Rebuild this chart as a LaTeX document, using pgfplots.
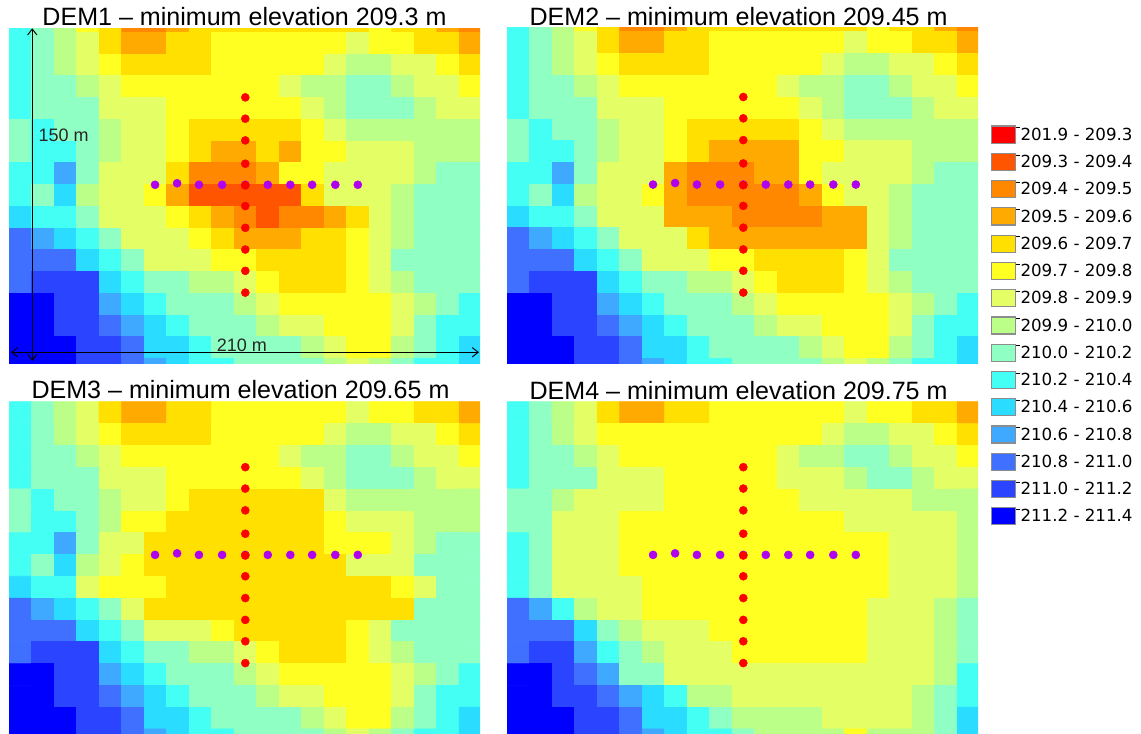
\documentclass[border=0pt]{standalone}
\usepackage{fontspec}
\setmainfont{Liberation Sans}
\newfontfamily\lgfont{DejaVu Sans}
\usepackage{pgfplots}
\usepackage{pgfplotstable}
\pgfplotsset{compat=1.18}
\usetikzlibrary{arrows.meta}
% class index of each cell, row by row from the top, 21 cells per row
% 0 = 201.9-209.3, 1 = 209.3-209.4, ... 14 = 211.2-211.4
\pgfplotstableread[row sep=\\]{c\\
9\\8\\7\\5\\4\\2\\2\\3\\4\\4\\4\\4\\4\\4\\4\\4\\5\\4\\4\\3\\2\\
9\\8\\7\\6\\4\\3\\3\\4\\4\\5\\5\\5\\5\\5\\5\\6\\5\\5\\4\\4\\3\\
9\\8\\7\\6\\5\\4\\4\\4\\4\\5\\5\\5\\5\\5\\6\\7\\7\\6\\6\\5\\4\\
9\\8\\8\\7\\6\\5\\5\\5\\5\\5\\5\\5\\6\\7\\7\\8\\8\\7\\6\\6\\5\\
9\\8\\8\\8\\6\\6\\6\\5\\5\\5\\5\\5\\5\\6\\7\\8\\8\\8\\7\\6\\6\\
8\\9\\8\\8\\7\\6\\6\\5\\4\\4\\4\\4\\4\\5\\6\\7\\7\\7\\7\\7\\7\\
8\\9\\9\\8\\7\\6\\6\\5\\4\\3\\3\\4\\3\\5\\5\\6\\6\\6\\7\\7\\7\\
9\\9\\11\\8\\6\\6\\6\\4\\2\\2\\2\\3\\5\\5\\6\\6\\6\\6\\7\\8\\8\\
9\\8\\10\\7\\6\\6\\5\\3\\1\\1\\1\\1\\1\\4\\6\\6\\6\\7\\8\\8\\8\\
10\\9\\9\\8\\6\\6\\6\\5\\4\\3\\2\\1\\2\\2\\3\\4\\6\\7\\8\\8\\8\\
12\\11\\10\\9\\8\\6\\6\\6\\5\\4\\3\\3\\3\\4\\4\\5\\6\\7\\8\\8\\8\\
12\\12\\12\\10\\9\\8\\6\\6\\6\\5\\5\\4\\4\\4\\4\\5\\6\\8\\8\\8\\8\\
12\\13\\13\\13\\10\\9\\8\\8\\7\\7\\6\\5\\4\\4\\4\\5\\6\\7\\8\\8\\8\\
14\\14\\13\\13\\11\\10\\9\\8\\8\\8\\7\\6\\5\\5\\5\\5\\5\\6\\7\\8\\9\\
14\\14\\13\\13\\12\\11\\10\\9\\8\\8\\8\\7\\6\\6\\5\\5\\5\\6\\8\\9\\9\\
14\\14\\14\\13\\13\\12\\10\\10\\9\\8\\8\\8\\8\\7\\6\\5\\5\\7\\8\\9\\10\\
14\\14\\14\\13\\13\\12\\11\\10\\9\\9\\8\\8\\8\\8\\7\\6\\7\\8\\9\\9\\10\\
}\demA
\pgfplotstableread[row sep=\\]{c\\
9\\8\\7\\5\\4\\2\\2\\3\\4\\4\\4\\4\\4\\4\\4\\4\\5\\4\\4\\3\\2\\
9\\8\\7\\6\\4\\3\\3\\4\\4\\5\\5\\5\\5\\5\\5\\6\\5\\5\\4\\4\\3\\
9\\8\\7\\6\\5\\4\\4\\4\\4\\5\\5\\5\\5\\5\\6\\7\\7\\6\\6\\5\\4\\
9\\8\\8\\7\\6\\5\\5\\5\\5\\5\\5\\5\\6\\7\\7\\8\\8\\7\\6\\6\\5\\
9\\8\\8\\8\\6\\6\\6\\5\\5\\5\\5\\5\\5\\6\\7\\8\\8\\8\\7\\6\\6\\
8\\9\\8\\8\\7\\6\\6\\5\\4\\4\\4\\4\\4\\5\\6\\7\\7\\7\\7\\7\\7\\
8\\9\\9\\8\\7\\6\\6\\5\\4\\3\\3\\3\\3\\5\\5\\6\\6\\6\\7\\7\\7\\
9\\9\\11\\8\\6\\6\\6\\3\\2\\2\\2\\3\\3\\5\\6\\6\\6\\6\\7\\8\\8\\
9\\8\\10\\7\\6\\6\\5\\3\\2\\2\\2\\2\\2\\3\\5\\6\\6\\7\\8\\8\\8\\
10\\9\\9\\8\\6\\6\\6\\3\\3\\3\\2\\2\\2\\2\\3\\3\\6\\7\\8\\8\\8\\
12\\11\\10\\9\\8\\6\\6\\6\\4\\3\\3\\3\\3\\3\\3\\3\\6\\7\\8\\8\\8\\
12\\12\\12\\10\\9\\8\\6\\6\\6\\5\\5\\4\\4\\4\\4\\5\\6\\8\\8\\8\\8\\
12\\13\\13\\13\\10\\9\\8\\8\\7\\7\\6\\5\\4\\4\\4\\5\\6\\7\\8\\8\\8\\
14\\14\\13\\13\\11\\10\\9\\8\\8\\8\\7\\6\\5\\5\\5\\5\\5\\6\\7\\8\\9\\
14\\14\\13\\13\\12\\11\\10\\9\\8\\8\\8\\7\\6\\6\\5\\5\\5\\6\\8\\9\\9\\
14\\14\\14\\13\\13\\12\\10\\10\\9\\8\\8\\8\\8\\7\\6\\5\\5\\7\\8\\9\\10\\
14\\14\\14\\13\\13\\12\\11\\10\\9\\9\\8\\8\\8\\8\\7\\6\\7\\8\\9\\9\\10\\
}\demB
\pgfplotstableread[row sep=\\]{c\\
9\\8\\7\\6\\4\\3\\3\\4\\4\\5\\5\\5\\5\\5\\5\\6\\5\\5\\4\\4\\3\\
9\\8\\7\\6\\5\\4\\4\\4\\4\\5\\5\\5\\5\\5\\6\\7\\7\\6\\6\\5\\4\\
9\\8\\8\\7\\6\\5\\5\\5\\5\\5\\5\\5\\6\\7\\7\\8\\8\\7\\6\\6\\5\\
9\\8\\8\\8\\6\\6\\6\\5\\5\\5\\5\\5\\5\\6\\7\\8\\8\\8\\7\\6\\6\\
8\\9\\8\\8\\7\\6\\6\\5\\4\\4\\4\\4\\4\\4\\6\\7\\7\\7\\7\\7\\7\\
8\\9\\9\\8\\7\\5\\5\\4\\4\\4\\4\\4\\4\\4\\5\\6\\6\\6\\7\\7\\7\\
9\\9\\11\\8\\6\\6\\4\\4\\4\\4\\4\\4\\4\\4\\5\\5\\5\\6\\7\\8\\8\\
9\\8\\10\\7\\6\\5\\4\\4\\4\\4\\4\\4\\4\\4\\4\\6\\6\\6\\8\\8\\8\\
10\\9\\9\\6\\5\\5\\5\\4\\4\\4\\4\\4\\4\\4\\4\\4\\4\\5\\6\\8\\8\\
12\\11\\10\\9\\8\\6\\4\\4\\4\\4\\4\\4\\4\\4\\4\\4\\4\\4\\8\\8\\8\\
12\\12\\12\\10\\9\\8\\6\\6\\6\\5\\4\\4\\4\\4\\4\\5\\6\\8\\8\\8\\8\\
12\\13\\13\\13\\10\\9\\8\\8\\7\\7\\6\\5\\4\\4\\4\\5\\6\\7\\8\\8\\8\\
14\\14\\13\\13\\11\\10\\9\\8\\8\\8\\7\\6\\5\\5\\5\\5\\5\\6\\7\\8\\9\\
14\\14\\13\\13\\12\\11\\10\\9\\8\\8\\8\\7\\6\\6\\5\\5\\5\\6\\8\\9\\9\\
14\\14\\14\\13\\13\\12\\10\\10\\9\\8\\8\\8\\8\\7\\6\\5\\5\\7\\8\\9\\10\\
14\\14\\14\\13\\13\\12\\11\\10\\9\\9\\8\\8\\8\\8\\7\\6\\7\\8\\9\\9\\10\\
}\demC
\pgfplotstableread[row sep=\\]{c\\
9\\8\\7\\6\\4\\3\\3\\4\\4\\5\\5\\5\\5\\5\\5\\6\\5\\5\\4\\4\\3\\
9\\8\\7\\6\\5\\5\\5\\5\\5\\5\\5\\5\\5\\5\\6\\7\\7\\6\\6\\5\\4\\
9\\8\\8\\7\\6\\5\\5\\5\\5\\5\\5\\5\\6\\7\\7\\8\\8\\7\\6\\6\\5\\
9\\8\\8\\8\\6\\6\\6\\5\\5\\5\\5\\5\\6\\6\\6\\7\\8\\8\\7\\6\\6\\
8\\8\\7\\6\\6\\6\\6\\5\\5\\5\\5\\5\\5\\6\\6\\6\\6\\6\\7\\7\\7\\
8\\8\\6\\6\\6\\5\\5\\5\\5\\5\\5\\5\\5\\5\\5\\6\\6\\6\\6\\6\\7\\
9\\8\\6\\6\\6\\5\\5\\5\\5\\5\\5\\5\\5\\5\\5\\5\\5\\6\\6\\6\\7\\
9\\8\\6\\6\\6\\5\\5\\5\\5\\5\\5\\5\\5\\5\\5\\5\\5\\6\\6\\6\\7\\
9\\8\\6\\6\\6\\6\\5\\5\\5\\5\\5\\5\\5\\5\\5\\5\\5\\6\\6\\6\\7\\
12\\11\\9\\7\\6\\6\\5\\5\\5\\5\\5\\5\\5\\5\\5\\5\\6\\6\\6\\7\\8\\
12\\12\\12\\10\\8\\7\\6\\6\\6\\5\\5\\5\\5\\5\\5\\5\\6\\6\\6\\7\\8\\
12\\13\\13\\11\\9\\8\\7\\6\\6\\6\\5\\5\\5\\5\\5\\5\\6\\6\\6\\7\\8\\
14\\14\\13\\12\\11\\8\\8\\6\\6\\6\\6\\6\\6\\6\\6\\6\\6\\6\\6\\7\\9\\
14\\14\\13\\13\\12\\11\\10\\9\\7\\7\\6\\6\\6\\6\\6\\6\\6\\6\\7\\8\\9\\
14\\14\\14\\13\\13\\12\\10\\10\\9\\8\\7\\7\\7\\7\\6\\6\\6\\6\\7\\8\\10\\
14\\14\\14\\13\\13\\12\\11\\10\\9\\9\\8\\7\\7\\7\\7\\5\\7\\7\\7\\8\\10\\
}\demD
\definecolor{c0}{RGB}{255,0,0}
\definecolor{c1}{RGB}{255,85,0}
\definecolor{c2}{RGB}{255,136,0}
\definecolor{c3}{RGB}{255,170,0}
\definecolor{c4}{RGB}{255,224,0}
\definecolor{c5}{RGB}{255,255,34}
\definecolor{c6}{RGB}{228,255,102}
\definecolor{c7}{RGB}{187,255,136}
\definecolor{c8}{RGB}{144,255,196}
\definecolor{c9}{RGB}{68,255,244}
\definecolor{c10}{RGB}{42,220,255}
\definecolor{c11}{RGB}{63,168,255}
\definecolor{c12}{RGB}{63,112,255}
\definecolor{c13}{RGB}{43,68,255}
\definecolor{c14}{RGB}{0,0,255}
\definecolor{dotpurple}{RGB}{176,0,240}
\pgfplotsset{
  colormap={dem}{rgb255=(255,0,0) rgb255=(255,85,0) rgb255=(255,136,0) rgb255=(255,170,0)
    rgb255=(255,224,0) rgb255=(255,255,34) rgb255=(228,255,102) rgb255=(187,255,136)
    rgb255=(144,255,196) rgb255=(68,255,244) rgb255=(42,220,255) rgb255=(63,168,255)
    rgb255=(63,112,255) rgb255=(43,68,255) rgb255=(0,0,255)},
  panel/.style={
    scale only axis, width=353.25pt, xmin=-0.5, xmax=20.43,
    xtick=\empty, ytick=\empty, axis line style={draw=none},
    anchor=north west, clip=true,
    colormap name=dem, colormap access=piecewise constant,
    point meta min=-0.5, point meta max=14.5,
    title style={anchor=base, inner sep=0pt, yshift=-6pt, font=\fontsize{18.8}{20}\selectfont},
  },
  cells/.style={matrix plot*, mesh/cols=21, mesh/ordering=x varies, point meta=explicit, forget plot},
  swatch/.style={legend image code/.code={
    \path (0pt,0pt) -- (21.75pt,0pt);
    \draw[overlay,fill=#1,draw=black!45,line width=0.9pt] (0pt,-11.65pt) rectangle (18pt,1.15pt);}},
}
\newcommand{\crossdots}{%
  \addplot[only marks, mark=*, mark size=3pt, mark options={fill=dotpurple,draw=none}, color=dotpurple, forget plot]
    coordinates {(5.99,8.48) (6.97,8.55) (7.94,8.48) (8.97,8.48) (10,8.48) (11,8.48) (12,8.48) (12.97,8.48) (14,8.48) (15,8.48)};
  \addplot[only marks, mark=*, mark size=3pt, mark options={fill=red,draw=none}, color=red, forget plot]
    coordinates {(10,12.5) (10,11.52) (10,10.52) (10,9.45) (10,8.45) (10,7.5) (10,6.5) (10,5.5) (10,4.52) (10,3.52)};
}
\begin{document}
\begin{tikzpicture}
\path[use as bounding box] (0pt,0pt) rectangle (855.75pt,550.5pt);
\begin{axis}[panel, at={(6.75pt,529.3pt)}, height=251.25pt, ymin=0.27, ymax=15.68,
  title={DEM1 – minimum elevation 209.3 m}, title style={at={(0.5,1.0078)}}]
\addplot[cells] table[x index=0, y index=0, meta index=0, x expr={mod(\coordindex,21)}, y expr={16-floor((\coordindex+0.5)/21)}] {\demA};
\crossdots
\end{axis}
\begin{axis}[panel, at={(380.25pt,530pt)}, height=252pt, ymin=0.27, ymax=15.7,
  title={DEM2 – minimum elevation 209.45 m}, title style={at={(0.4917,1.0048)}},
  legend style={at={(1.0276,0.7024)}, anchor=north west, draw=none, fill=none, inner sep=0pt, outer sep=0pt,
    row sep=7.75pt, column sep=0pt,
    font=\lgfont\fontsize{12.5}{13}\selectfont\color{black!85},
    nodes={inner sep=0pt, outer sep=0pt, text height=9.5pt, text depth=3pt}},
  legend cell align=left]
\addplot[cells] table[x index=0, y index=0, meta index=0, x expr={mod(\coordindex,21)}, y expr={16-floor((\coordindex+0.5)/21)}] {\demB};
\crossdots
\addlegendimage{swatch=c0}\addlegendentry{201.9 - 209.3}
\addlegendimage{swatch=c1}\addlegendentry{209.3 - 209.4}
\addlegendimage{swatch=c2}\addlegendentry{209.4 - 209.5}
\addlegendimage{swatch=c3}\addlegendentry{209.5 - 209.6}
\addlegendimage{swatch=c4}\addlegendentry{209.6 - 209.7}
\addlegendimage{swatch=c5}\addlegendentry{209.7 - 209.8}
\addlegendimage{swatch=c6}\addlegendentry{209.8 - 209.9}
\addlegendimage{swatch=c7}\addlegendentry{209.9 - 210.0}
\addlegendimage{swatch=c8}\addlegendentry{210.0 - 210.2}
\addlegendimage{swatch=c9}\addlegendentry{210.2 - 210.4}
\addlegendimage{swatch=c10}\addlegendentry{210.4 - 210.6}
\addlegendimage{swatch=c11}\addlegendentry{210.6 - 210.8}
\addlegendimage{swatch=c12}\addlegendentry{210.8 - 211.0}
\addlegendimage{swatch=c13}\addlegendentry{211.0 - 211.2}
\addlegendimage{swatch=c14}\addlegendentry{211.2 - 211.4}
\end{axis}
\begin{axis}[panel, at={(6.75pt,249.2pt)}, height=249.2pt, ymin=0.27, ymax=15.5,
  title={DEM3 – minimum elevation 209.65 m}, title style={at={(0.4915,1.0085)}}]
\addplot[cells] table[x index=0, y index=0, meta index=0, x expr={mod(\coordindex,21)}, y expr={15-floor((\coordindex+0.5)/21)}] {\demC};
\crossdots
\end{axis}
\begin{axis}[panel, at={(380.25pt,249.2pt)}, height=249.2pt, ymin=0.27, ymax=15.5,
  title={DEM4 – minimum elevation 209.75 m}, title style={at={(0.4917,1.0055)}}]
\addplot[cells] table[x index=0, y index=0, meta index=0, x expr={mod(\coordindex,21)}, y expr={15-floor((\coordindex+0.5)/21)}] {\demD};
\crossdots
\end{axis}
\draw[black, line width=0.7pt, {Straight Barb[length=4.5pt,width=7pt]}-{Straight Barb[length=4.5pt,width=7pt]}] (24.2pt,529.3pt) -- (24.2pt,279.75pt);
\draw[black, line width=0.7pt, {Straight Barb[length=4.5pt,width=7pt]}-{Straight Barb[length=4.5pt,width=7pt]}] (8.25pt,286.3pt) -- (359.25pt,286.3pt);
\node[anchor=base west, inner sep=0pt, font=\fontsize{13.5}{15}\selectfont, text=black!85] at (28.7pt,444.2pt) {150 m};
\node[anchor=base west, inner sep=0pt, font=\fontsize{13.5}{15}\selectfont, text=black!85] at (162.5pt,286.6pt) {210 m};
\end{tikzpicture}
\end{document}
